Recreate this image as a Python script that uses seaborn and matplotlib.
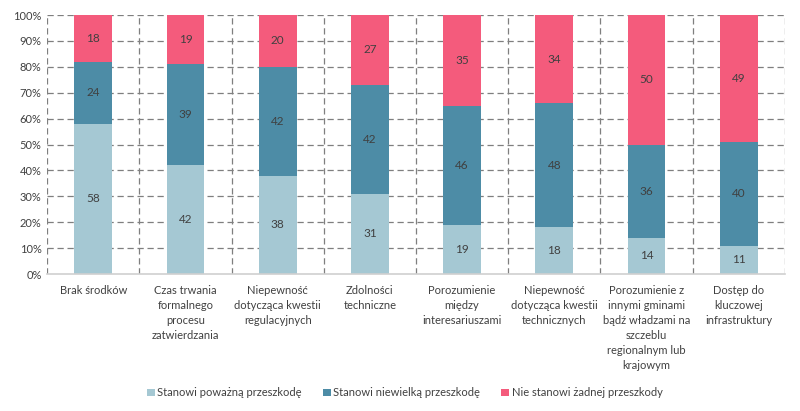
import matplotlib
matplotlib.use("Agg")
import matplotlib.pyplot as plt
import seaborn as sns
import numpy as np
import pandas as pd
from matplotlib.patches import Patch

categories = [
    "Brak środków",
    "Czas trwania\nformalnego\nprocesu\nzatwierdzania",
    "Niepewność\ndotycząca kwestii\nregulacyjnych",
    "Zdolności\ntechniczne",
    "Porozumienie\nmiędzy\ninteresariuszami",
    "Niepewność\ndotycząca kwestii\ntechnicznych",
    "Porozumienie z\ninnymi gminami\nbądź władzami na\nszczeblu\nregionalnym lub\nkrajowym",
    "Dostęp do\nkluczowej\ninfrastruktury",
]
serious = [58, 42, 38, 31, 19, 18, 14, 11]
minor = [24, 39, 42, 42, 46, 48, 36, 40]
none_ = [18, 19, 20, 27, 35, 34, 50, 49]
series_names = ["Stanowi poważną przeszkodę", "Stanowi niewielką przeszkodę", "Nie stanowi żadnej przeszkody"]
colors = ["#A5C8D3", "#4D8CA6", "#F45B7C"]
yticks = [0, 10, 20, 30, 40, 50, 60, 70, 80, 90, 100]
ytick_labels = [f"{v}%" for v in yticks]

sns.set_theme(style="white")
plt.rcParams["font.family"] = ["Lato", "DejaVu Sans"]

fig = plt.figure(figsize=(8, 4.11), dpi=100)
ax = fig.add_axes([0.059, 0.333, 0.922, 0.6305])

s1 = np.array(serious)
s2 = s1 + np.array(minor)
s3 = s2 + np.array(none_)
df = pd.DataFrame({"cat": categories, "s1": s1, "s2": s2, "s3": s3})

for col, c in zip(["s3", "s2", "s1"], colors[::-1]):
    sns.barplot(data=df, x="cat", y=col, color=c, width=0.41, ax=ax,
                saturation=1, zorder=3, linewidth=0)

bottoms = [np.zeros(len(categories)), s1, s2]
for vals, bot in zip([serious, minor, none_], bottoms):
    for i, (v, b) in enumerate(zip(vals, bot)):
        ax.text(i, b + v / 2, str(v), ha="center", va="center",
                fontsize=8.5, color="#404040", zorder=4)

ax.set_ylim(0, 100)
ax.set_xlim(-0.5, len(categories) - 0.5)
ax.set_yticks(yticks)
ax.set_yticklabels(ytick_labels, fontsize=8, color="#404040")
ax.set_xticks(range(len(categories)))
ax.set_xticklabels(categories, fontsize=8, color="#404040", linespacing=1.45)
ax.set_xlabel("")
ax.set_ylabel("")
ax.tick_params(axis="x", length=0, pad=8)
ax.tick_params(axis="y", length=0, pad=4)

for y in yticks[1:]:
    ax.axhline(y, color="#7f7f7f", linestyle=(0, (5, 3)), linewidth=0.9, zorder=1)
for x in np.arange(-0.5, len(categories), 1.0):
    ax.axvline(x, color="#7f7f7f", linestyle=(0, (5, 3)), linewidth=0.9, zorder=1)

for s in ["top", "right", "left"]:
    ax.spines[s].set_visible(False)
ax.spines["bottom"].set_color("#d0d0d0")
ax.spines["bottom"].set_linewidth(1.2)
ax.spines["bottom"].set_zorder(5)

handles = [Patch(facecolor=c, edgecolor="none") for c in colors]
fig.legend(handles, series_names, loc="center", bbox_to_anchor=(0.506, 0.044),
           ncol=3, frameon=False, fontsize=8, handlelength=0.7, handleheight=0.7,
           handletextpad=0.25, columnspacing=1.9, labelcolor="#404040")

fig.savefig("out.png", dpi=100)
